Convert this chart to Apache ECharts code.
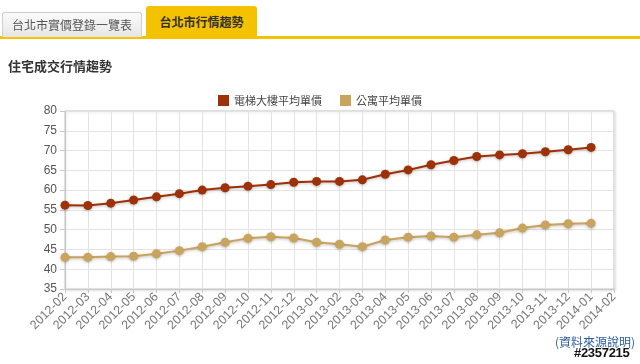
<!DOCTYPE html>
<html><head><meta charset="utf-8">
<script src="https://cdn.jsdelivr.net/npm/echarts@6/dist/echarts.min.js"></script>
<style>
html,body{margin:0;padding:0;background:#fff;width:640px;height:364px;overflow:hidden;font-family:"Noto Sans CJK TC","Noto Sans",sans-serif;}
#bar{position:absolute;left:0;top:36px;width:640px;height:3px;background:#f5c200;}
.tab{position:absolute;box-sizing:border-box;text-align:center;font-size:12px;white-space:nowrap;}
#t1{left:2px;top:12px;width:140px;height:25px;line-height:23px;border:1px solid #cfcfcf;border-bottom:none;border-radius:3px 3px 0 0;background:linear-gradient(#fbfbfb,#e6e6e6);color:#555;}
#t2{left:146px;top:6px;width:111px;height:31px;line-height:31px;background:#f5c200;border-radius:3px 3px 0 0;color:#333;font-weight:bold;}
#title{position:absolute;left:8px;top:56px;font-size:13px;color:#333;font-weight:bold;white-space:nowrap;}
#src{position:absolute;left:555px;top:333px;font-size:12px;color:#2d5f9e;white-space:nowrap;}
#wm{position:absolute;left:574px;top:346px;font-size:13px;line-height:14px;font-weight:bold;color:#111;font-family:"Liberation Sans",sans-serif;white-space:nowrap;letter-spacing:-0.3px;text-shadow:1px 0 #fff,-1px 0 #fff,0 1px #fff,0 -1px #fff;}
#chart{position:absolute;left:0;top:0;width:640px;height:364px;}
</style></head>
<body>
<div id="chart"></div>
<div id="bar"></div>
<div class="tab" id="t1">台北市實價登錄一覽表</div>
<div class="tab" id="t2">台北市行情趨勢</div>
<div id="title">住宅成交行情趨勢</div>
<div id="src">(資料來源說明)</div>
<div id="wm">#2357215</div>
<script>
var categories = ["2012-02","2012-03","2012-04","2012-05","2012-06","2012-07","2012-08","2012-09","2012-10","2012-11","2012-12","2013-01","2013-02","2013-03","2013-04","2013-05","2013-06","2013-07","2013-08","2013-09","2013-10","2013-11","2013-12","2014-01","2014-02"];
var elevatorPrice = [56.2,56.1,56.7,57.5,58.3,59.1,60.0,60.6,61.0,61.4,62.0,62.2,62.2,62.6,64.0,65.1,66.4,67.5,68.5,68.9,69.2,69.7,70.2,70.8,null];
var apartmentPrice = [43.0,43.0,43.2,43.3,43.9,44.7,45.7,46.8,47.8,48.2,47.9,46.8,46.3,45.7,47.4,48.1,48.4,48.1,48.7,49.2,50.4,51.2,51.5,51.6,null];
var seriesNames = ["電梯大樓平均單價","公寓平均單價"];

var chart = echarts.init(document.getElementById('chart'));
function ser(name, data, color){
  return {name:name,type:'line',data:data,symbol:'circle',symbolSize:9,
    lineStyle:{color:color,width:2,shadowColor:'rgba(0,0,0,0.25)',shadowBlur:3,shadowOffsetY:1},
    itemStyle:{color:color,shadowColor:'rgba(0,0,0,0.25)',shadowBlur:3,shadowOffsetY:1},
    animation:false};
}
chart.setOption({
  animation:false,
  legend:{top:90,left:'center',itemWidth:11,itemHeight:11,itemGap:18,icon:'rect',
    textStyle:{color:'#444',fontSize:11,fontFamily:'Noto Sans CJK TC'},data:seriesNames},
  grid:{left:65,right:26,top:111,bottom:75,show:true,borderColor:'#c8c8c8',borderWidth:1,
    shadowColor:'rgba(0,0,0,0.15)',shadowBlur:3,shadowOffsetX:1,shadowOffsetY:1,backgroundColor:'#fff'},
  xAxis:{type:'category',data:categories,boundaryGap:false,
    axisLine:{lineStyle:{color:'#c8c8c8'}},axisTick:{show:true,lineStyle:{color:'#c8c8c8'},length:4},
    axisLabel:{rotate:45,interval:0,color:'#777',fontSize:12.5,fontFamily:'Liberation Sans',margin:6},
    splitLine:{show:true,lineStyle:{color:'#e3e3e3'}}},
  yAxis:{type:'value',min:35,max:80,interval:5,
    axisLine:{show:true,lineStyle:{color:'#c8c8c8'}},axisTick:{show:true,lineStyle:{color:'#c8c8c8'},length:5},
    axisLabel:{color:'#555',fontSize:12,fontFamily:'Liberation Sans',margin:8},
    splitLine:{show:true,lineStyle:{color:'#e3e3e3'}}},
  series:[ser(seriesNames[0],elevatorPrice,'#9e3108'),ser(seriesNames[1],apartmentPrice,'#c9a45c')]
});
</script>
</body></html>
